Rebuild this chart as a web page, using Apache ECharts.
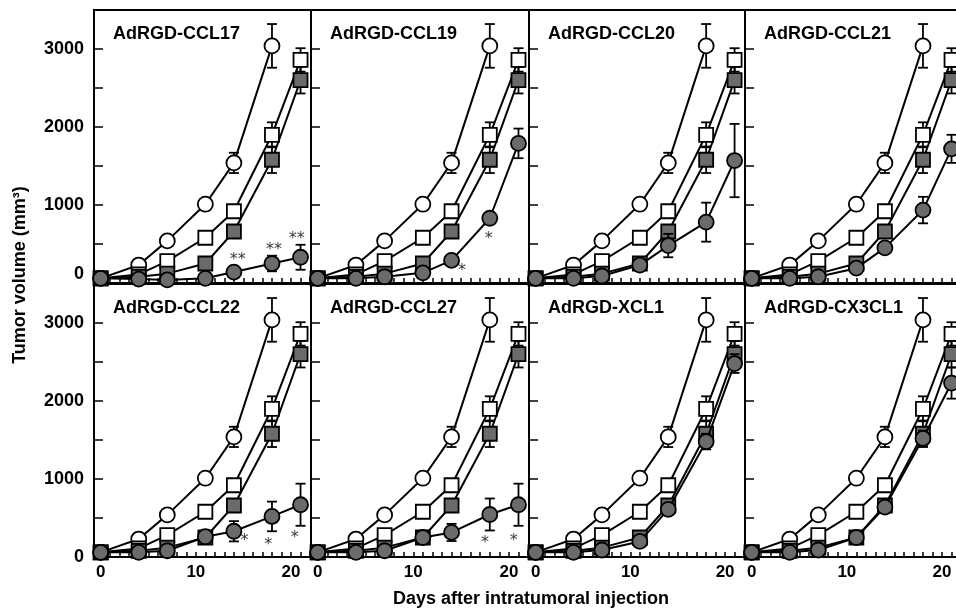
<!DOCTYPE html>
<html>
<head>
<meta charset="utf-8">
<script src="https://cdn.jsdelivr.net/npm/echarts@6/dist/echarts.min.js"></script>
<style>html,body{margin:0;padding:0;background:#fff;overflow:hidden}#c{width:972px;height:611px}</style>
</head>
<body>
<div id="c"></div>
<script>
// ---------- data ----------
const days = [0, 4, 7, 11, 14, 18, 21];
const panelNames = ['AdRGD-CCL17', 'AdRGD-CCL19', 'AdRGD-CCL20', 'AdRGD-CCL21',
                    'AdRGD-CCL22', 'AdRGD-CCL27', 'AdRGD-XCL1', 'AdRGD-CX3CL1'];
const xTickLabels = [0, 10, 20];
const yTickLabels = [0, 1000, 2000, 3000];

// controls (same in every panel)
const openCircleVals = [60, 230, 540, 1010, 1540, 3040];      // days 0..18
const openCircleErr  = [0, 0, 0, 0, 130, 280];
const openSquareVals = [60, 110, 280, 580, 920, 1900, 2860];
const openSquareErr  = [0, 0, 0, 0, 0, 160, 150];
const filledSquareVals = [60, 80, 120, 250, 660, 1580, 2600];
const filledSquareErr  = [0, 0, 0, 0, 0, 170, 170];

// chemokine-treated groups (filled circles)
const ccl17Vals = [60, 50, 40, 60, 140, 250, 330];
const ccl17Err  = [0, 0, 0, 0, 0, 100, 160];
const ccl19Vals = [60, 60, 80, 130, 290, 830, 1790];
const ccl19Err  = [0, 0, 0, 0, 0, 0, 190];
const ccl20Vals = [60, 60, 90, 230, 480, 780, 1570];
const ccl20Err  = [0, 0, 0, 0, 150, 250, 470];
const ccl21Vals = [60, 60, 80, 190, 450, 935, 1720];
const ccl21Err  = [0, 0, 0, 0, 0, 170, 180];
const ccl22Vals = [60, 60, 80, 260, 330, 520, 670];
const ccl22Err  = [0, 0, 0, 0, 130, 190, 270];
const ccl27Vals = [60, 60, 80, 250, 315, 545, 670];
const ccl27Err  = [0, 0, 0, 0, 110, 205, 270];
const xcl1Vals  = [60, 60, 90, 200, 610, 1480, 2480];
const xcl1Err   = [0, 0, 0, 0, 0, 100, 120];
const cx3cl1Vals = [60, 60, 90, 250, 640, 1520, 2230];
const cx3cl1Err  = [0, 0, 0, 0, 0, 100, 200];

// significance marks: [day, value, text]
const ccl17Stars = [[14.4, 330, '**'], [18.2, 460, '**'], [20.6, 600, '**']];
const ccl19Stars = [[15.1, 200, '*'], [17.9, 610, '*']];
const ccl22Stars = [[15.1, 240, '*'], [17.6, 190, '*'], [20.4, 280, '*']];
const ccl27Stars = [[17.5, 215, '*'], [20.5, 250, '*']];

const treatedVals = [ccl17Vals, ccl19Vals, ccl20Vals, ccl21Vals, ccl22Vals, ccl27Vals, xcl1Vals, cx3cl1Vals];
const treatedErr  = [ccl17Err, ccl19Err, ccl20Err, ccl21Err, ccl22Err, ccl27Err, xcl1Err, cx3cl1Err];
const treatedStars = [ccl17Stars, ccl19Stars, [], [], ccl22Stars, ccl27Stars, [], []];

// ---------- layout ----------
const colLeft = [94, 311, 529, 745];
const colW = [217, 218, 216, 217];
const rowTop = [10, 284];
const rowH = 273;
const FILL = '#6b6b6b';
const FONT = 'Liberation Sans, Arial, sans-serif';

const grids = [], xAxes = [], yAxes = [], series = [], titles = [];
const dayTicks = [];
for (let d = 0; d <= 22; d++) dayTicks.push(d);

function pairs(vals) { return vals.map((v, k) => [days[k], v]); }
function errData(vals, err) {
  const out = [];
  vals.forEach((v, k) => { if (err[k] > 0) out.push([days[k], v, err[k]]); });
  return out;
}
function errRender(params, api) {
  const x = api.value(0), y = api.value(1), e = api.value(2);
  const t = api.coord([x, y + e]), b = api.coord([x, y - e]);
  const hw = 5, st = { stroke: '#000', lineWidth: 1.8 };
  return { type: 'group', children: [
    { type: 'line', shape: { x1: t[0], y1: t[1], x2: b[0], y2: b[1] }, style: st },
    { type: 'line', shape: { x1: t[0] - hw, y1: t[1], x2: t[0] + hw, y2: t[1] }, style: st },
    { type: 'line', shape: { x1: b[0] - hw, y1: b[1], x2: b[0] + hw, y2: b[1] }, style: st }
  ]};
}

for (let i = 0; i < 8; i++) {
  const r = Math.floor(i / 4), c = i % 4;
  grids.push({ left: colLeft[c], width: colW[c], top: rowTop[r], height: rowH,
               show: true, borderColor: '#000', borderWidth: 2, containLabel: false });
  xAxes.push({
    type: 'value', gridIndex: i, min: -0.7, max: 22.1,
    axisLine: { show: true, onZero: false, lineStyle: { color: '#000', width: 2 } },
    axisTick: { show: true, inside: true, length: 5, customValues: dayTicks, lineStyle: { color: '#000', width: 1.5 } },
    axisLabel: { show: r === 1, customValues: xTickLabels, color: '#000', fontSize: 17, fontWeight: 'bold', fontFamily: FONT, margin: 7 },
    splitLine: { show: false }
  });
  yAxes.push({
    type: 'value', gridIndex: i, min: 0, max: 3500, interval: 500,
    axisLine: { show: true, onZero: false, lineStyle: { color: '#000', width: 2 } },
    axisTick: { show: true, inside: true, length: 9, lineStyle: { color: '#000', width: 1.5 } },
    axisLabel: {
      show: c === 0, customValues: yTickLabels, color: '#000', fontSize: 18, fontWeight: 'bold', fontFamily: FONT, margin: 10,
      formatter: v => (v === 0 && r === 0) ? '{z|0}' : String(v),
      rich: { z: { fontSize: 18, fontWeight: 'bold', fontFamily: FONT, color: '#000', padding: [0, 0, 18, 0] } }
    },
    splitLine: { show: false }
  });
  titles.push({
    text: panelNames[i], left: colLeft[c] + 19, top: rowTop[r] + 15, padding: 0,
    textStyle: { fontSize: 18, fontWeight: 'bold', fontFamily: FONT, color: '#000' }
  });

  const groups = [
    { vals: openCircleVals, err: openCircleErr, sym: 'circle', size: 15, fill: '#fff' },
    { vals: openSquareVals, err: openSquareErr, sym: 'rect', size: 14, fill: '#fff' },
    { vals: filledSquareVals, err: filledSquareErr, sym: 'rect', size: 14, fill: FILL },
    { vals: treatedVals[i], err: treatedErr[i], sym: 'circle', size: 15, fill: FILL }
  ];
  groups.forEach((g, gi) => {
    series.push({
      type: 'custom', xAxisIndex: i, yAxisIndex: i, z: 2 + gi * 2,
      data: errData(g.vals, g.err), renderItem: errRender, silent: true, clip: false
    });
    series.push({
      type: 'line', xAxisIndex: i, yAxisIndex: i, z: 3 + gi * 2,
      data: pairs(g.vals), symbol: g.sym, symbolSize: g.size, showAllSymbol: true,
      lineStyle: { color: '#000', width: 2 },
      itemStyle: { color: g.fill, borderColor: '#000', borderWidth: 1.8 },
      clip: false, silent: true
    });
  });
  if (treatedStars[i].length) {
    series.push({
      type: 'scatter', xAxisIndex: i, yAxisIndex: i, z: 20, symbolSize: 0,
      data: treatedStars[i].map(s => ({ value: [s[0], s[1]], name: s[2] })),
      label: { show: true, position: 'inside', formatter: p => p.name, color: '#000',
               fontSize: 16, fontFamily: 'DejaVu Sans, sans-serif', offset: [0, 3] },
      silent: true
    });
  }
}

const chart = echarts.init(document.getElementById('c'), null, { renderer: 'canvas' });
chart.setOption({
  animation: false,
  backgroundColor: '#fff',
  title: titles,
  grid: grids,
  xAxis: xAxes,
  yAxis: yAxes,
  series: series,
  graphic: [
    { type: 'text', x: 20, y: 275, rotation: Math.PI / 2,
      style: { text: 'Tumor volume (mm³)', fontSize: 18, fontWeight: 'bold', fontFamily: FONT, fill: '#000',
               textAlign: 'center', textVerticalAlign: 'middle' } },
    { type: 'text', x: 531, y: 599,
      style: { text: 'Days after intratumoral injection', fontSize: 18, fontWeight: 'bold', fontFamily: FONT, fill: '#000',
               textAlign: 'center', textVerticalAlign: 'middle' } }
  ]
});
</script>
</body>
</html>
